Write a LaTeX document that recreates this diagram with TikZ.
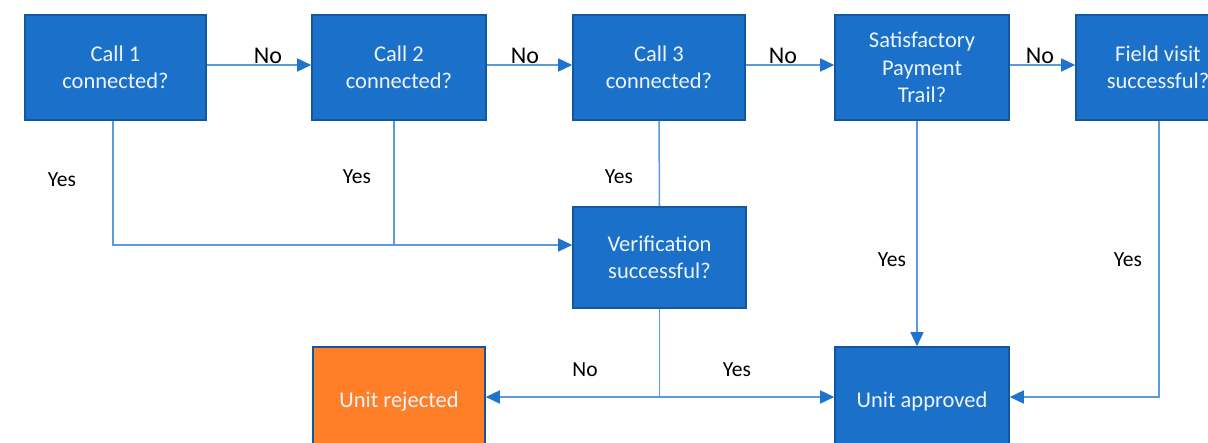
\documentclass[tikz,border=0pt]{standalone}
\usepackage{fontspec}
\setmainfont{Carlito}
\usetikzlibrary{arrows.meta,calc}
\definecolor{boxblue}{HTML}{1B71C9}
\definecolor{boxedge}{HTML}{11589E}
\definecolor{lineblue}{HTML}{5C9BDB}
\definecolor{tipblue}{HTML}{1E73CC}
\definecolor{boxorange}{HTML}{FE7F27}
\definecolor{boxtext}{HTML}{EEF4FB}
\tikzset{
  stepbox/.style={draw=boxedge, line width=1.6pt, fill=boxblue, text=boxtext,
    font=\fontsize{22.5}{27.5}\selectfont, align=center, inner sep=0pt,
    minimum height=105pt, execute at begin node={\rule{0pt}{24pt}}},
  endbox/.style={stepbox, minimum height=100pt,
    execute at begin node={\rule{0pt}{22.5pt}}},
  link/.style={draw=lineblue, line width=1.5pt},
  arrowlink/.style={link, -{Triangle[length=14pt,width=13pt,color=tipblue]}},
  toplabel/.style={font=\fontsize{24}{28}\selectfont, text=black},
  lbl/.style={font=\fontsize{21.5}{26}\selectfont, text=black}
}
\begin{document}
\begin{tikzpicture}[x=1pt,y=-1pt]
  \useasboundingbox (0,0) rectangle (1208,443);
  \clip (0,0) rectangle (1208,443);
  \fill[white] (0,0) rectangle (1208,443);

  % question boxes along the top row
  \node[stepbox, minimum width=181pt] (c1) at (115.5,67.5) {Call 1\\connected?};
  \node[stepbox, minimum width=174pt] (c2) at (399,67.5) {Call 2\\connected?};
  \node[stepbox, minimum width=172pt] (c3) at (659,67.5) {Call 3\\connected?};
  \node[stepbox, minimum width=174pt] (sp) at (922,67.5) {Satisfactory\\Payment\\Trail?};
  \node[stepbox, minimum width=164pt] (fv) at (1158,67.5) {Field visit\\successful?};

  % verification and outcomes
  \node[stepbox, minimum width=173pt, minimum height=101pt] (ver) at (659.5,257.5) {Verification\\successful?};
  \node[endbox, minimum width=172pt, fill=boxorange] (rej) at (399,397) {Unit rejected};
  \node[endbox, minimum width=174pt] (app) at (922,397) {Unit approved};

  % "No" chain along the top
  \draw[arrowlink] ([yshift=2.5pt]c1.east) -- ([yshift=2.5pt]c2.west);
  \draw[arrowlink] ([yshift=2.5pt]c2.east) -- ([yshift=2.5pt]c3.west);
  \draw[arrowlink] ([yshift=2.5pt]c3.east) -- ([yshift=2.5pt]sp.west);
  \draw[arrowlink] ([yshift=2.5pt]sp.east) -- ([yshift=2.5pt]fv.west);

  % "Yes" branches merging into verification
  \coordinate (verin) at ([yshift=12.5pt]ver.west);
  \draw[arrowlink] ([xshift=-2.5pt]c1.south) |- (verin);
  \draw[link] ([xshift=-5pt]c2.south) -- ([xshift=-5pt]c2.south |- verin);
  \draw[link] (c3.south) -- (ver.north);

  % verification outcome split
  \coordinate (split) at (ver.south |- rej.east);
  \draw[link] (ver.south) -- (split);
  \draw[arrowlink] (split) -- (rej.east);
  \draw[arrowlink] (split) -- (app.west);

  % approvals from payment trail and field visit
  \draw[arrowlink] ([xshift=-5pt]sp.south) -- ([xshift=-5pt]app.north);
  \draw[arrowlink] ([xshift=1pt]fv.south) |- (app.east);

  % connector labels
  \node[toplabel] (n1) at (268,56) {No};
  \node[toplabel] (n2) at (525,56) {No};
  \node[toplabel] (n3) at (783,56) {No};
  \node[toplabel] (n4) at (1040,56) {No};
  \node[lbl] (y1) at (62,180) {Yes};
  \node[lbl] (y2) at (357,177) {Yes};
  \node[lbl] (y3) at (619,177) {Yes};
  \node[lbl] (y4) at (892,260) {Yes};
  \node[lbl] (y5) at (1128,260) {Yes};
  \node[lbl] (n5) at (585,370) {No};
  \node[lbl] (y6) at (737,370) {Yes};
\end{tikzpicture}
\end{document}
